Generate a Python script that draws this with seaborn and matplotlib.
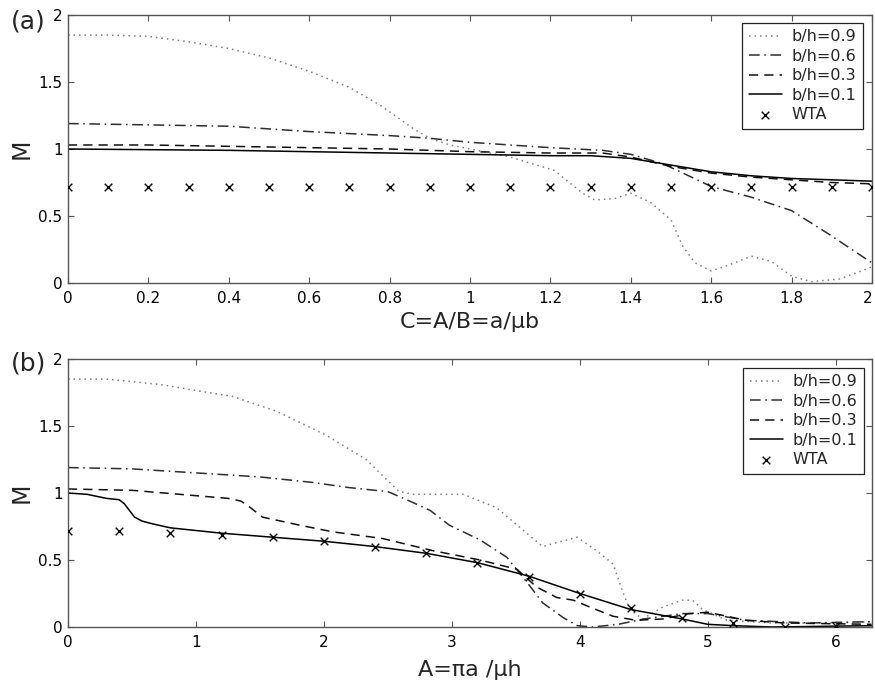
import numpy as np
import pandas as pd
import matplotlib
matplotlib.use("Agg")
import matplotlib.pyplot as plt
import matplotlib.transforms as mtransforms
from matplotlib.ticker import FuncFormatter
import seaborn as sns

# ---------------- data: panel (a) ----------------
xa_09 = [0, 0.1, 0.2, 0.25, 0.3, 0.4, 0.5, 0.6, 0.7, 0.78, 0.86, 0.9, 0.95, 1.0, 1.1, 1.21,
         1.28, 1.31, 1.36, 1.40, 1.45, 1.50, 1.53, 1.56, 1.60, 1.64, 1.70, 1.75, 1.80, 1.85, 1.92, 2.0]
ya_09 = [1.85, 1.85, 1.84, 1.82, 1.80, 1.75, 1.68, 1.58, 1.46, 1.32, 1.15, 1.08, 1.03, 1.00, 0.94, 0.84,
         0.67, 0.62, 0.63, 0.67, 0.60, 0.47, 0.27, 0.15, 0.09, 0.13, 0.20, 0.16, 0.05, 0.01, 0.03, 0.12]
xa_06 = [0, 0.2, 0.4, 0.5, 0.6, 0.8, 0.9, 1.0, 1.2, 1.33, 1.4, 1.48, 1.53, 1.6, 1.7, 1.8, 1.89, 2.0]
ya_06 = [1.19, 1.18, 1.17, 1.15, 1.13, 1.10, 1.08, 1.05, 1.01, 0.99, 0.96, 0.89, 0.82, 0.72, 0.64, 0.54, 0.37, 0.15]
xa_03 = [0, 0.2, 0.4, 0.6, 0.8, 1.0, 1.2, 1.33, 1.4, 1.5, 1.6, 1.7, 1.8, 1.9, 2.0]
ya_03 = [1.03, 1.03, 1.02, 1.01, 1.00, 0.98, 0.97, 0.97, 0.94, 0.87, 0.82, 0.79, 0.77, 0.75, 0.74]
xa_01 = [0, 0.2, 0.4, 0.6, 0.8, 1.0, 1.2, 1.3, 1.4, 1.5, 1.6, 1.7, 1.8, 1.9, 2.0]
ya_01 = [1.0, 0.995, 0.99, 0.98, 0.97, 0.96, 0.95, 0.95, 0.93, 0.88, 0.83, 0.80, 0.78, 0.77, 0.76]
xa_wta = [0, 0.1, 0.2, 0.3, 0.4, 0.5, 0.6, 0.7, 0.8, 0.9, 1.0, 1.1, 1.2, 1.3, 1.4, 1.5, 1.6, 1.7, 1.8, 1.9, 2.0]
ya_wta = [0.72, 0.72, 0.72, 0.72, 0.72, 0.72, 0.72, 0.72, 0.72, 0.72, 0.72,
          0.72, 0.72, 0.72, 0.72, 0.72, 0.72, 0.72, 0.72, 0.72, 0.72]

# ---------------- data: panel (b) ----------------
xb_09 = [0, 0.3, 0.72, 1.03, 1.29, 1.63, 2.02, 2.33, 2.49, 2.59, 2.7, 2.85, 3.09, 3.35, 3.56, 3.71,
         3.82, 3.98, 4.13, 4.26, 4.34, 4.39, 4.49, 4.65, 4.8, 4.88, 4.96, 5.15, 5.5, 6.0, 6.28]
yb_09 = [1.85, 1.85, 1.81, 1.76, 1.72, 1.61, 1.43, 1.25, 1.10, 1.01, 0.99, 0.99, 0.99, 0.89, 0.72, 0.60,
         0.63, 0.67, 0.57, 0.47, 0.25, 0.13, 0.06, 0.15, 0.20, 0.20, 0.13, 0.05, 0.03, 0.03, 0.04]
xb_06 = [0, 0.5, 1.0, 1.5, 1.9, 2.2, 2.5, 2.67, 2.83, 2.98, 3.22, 3.43, 3.59, 3.71, 3.87, 3.98,
         4.1, 4.3, 4.5, 4.8, 5.0, 5.3, 5.8, 6.28]
yb_06 = [1.19, 1.18, 1.15, 1.12, 1.08, 1.04, 1.01, 0.94, 0.87, 0.76, 0.65, 0.52, 0.33, 0.18, 0.07, 0.01,
         0.0, 0.02, 0.06, 0.10, 0.10, 0.05, 0.03, 0.04]
xb_03 = [0, 0.5, 1.0, 1.25, 1.35, 1.40, 1.52, 1.81, 2.07, 2.46, 2.85, 3.22, 3.51, 3.66, 3.82, 3.95,
         4.1, 4.26, 4.44, 4.65, 4.85, 5.0, 5.3, 5.6, 6.28]
yb_03 = [1.03, 1.02, 0.98, 0.96, 0.94, 0.91, 0.82, 0.76, 0.71, 0.66, 0.57, 0.50, 0.43, 0.30, 0.22, 0.20,
         0.14, 0.08, 0.05, 0.06, 0.10, 0.11, 0.05, 0.03, 0.02]
xb_01 = [0, 0.15, 0.3, 0.4, 0.44, 0.48, 0.52, 0.58, 0.66, 0.8, 1.2, 1.6, 2.0, 2.4, 2.8, 3.2, 3.6, 4.0,
         4.4, 4.8, 5.0, 5.2, 5.5, 6.28]
yb_01 = [1.0, 0.99, 0.96, 0.95, 0.92, 0.87, 0.82, 0.79, 0.77, 0.74, 0.70, 0.67, 0.64, 0.60, 0.55, 0.48,
         0.38, 0.25, 0.13, 0.06, 0.02, 0.01, 0.0, 0.01]
xb_wta = [0, 0.4, 0.8, 1.2, 1.6, 2.0, 2.4, 2.8, 3.2, 3.6, 4.0, 4.4, 4.8, 5.2, 5.6, 6.0]
yb_wta = [0.72, 0.72, 0.70, 0.69, 0.67, 0.64, 0.60, 0.55, 0.48, 0.375, 0.25, 0.14, 0.07, 0.03, 0.0, 0.01]

labels = ["b/h=0.9", "b/h=0.6", "b/h=0.3", "b/h=0.1", "WTA"]
xticks_a = [0, 0.2, 0.4, 0.6, 0.8, 1.0, 1.2, 1.4, 1.6, 1.8, 2.0]
xticks_b = [0, 1, 2, 3, 4, 5, 6]
yticks = [0, 0.5, 1, 1.5, 2]

styles = {
    "b/h=0.9": dict(color="#808080", linestyle=(0, (1, 2.6)), linewidth=1.1),
    "b/h=0.6": dict(color="#2e2e2e", linestyle=(0, (7, 3, 1, 3)), linewidth=1.1),
    "b/h=0.3": dict(color="#111111", linestyle=(0, (6, 4)), linewidth=1.1),
    "b/h=0.1": dict(color="#000000", linestyle="-", linewidth=1.1),
}

sns.set_theme(style="ticks")
plt.rcParams["font.family"] = ["DejaVu Sans"]
plt.rcParams["axes.edgecolor"] = "#555555"
plt.rcParams["axes.linewidth"] = 1.0

W, H = 875, 682
fig = plt.figure(figsize=(W / 100, H / 100), dpi=100)
fig.patch.set_facecolor("white")

ax_a = fig.add_axes([68 / W, 1 - 283 / H, 804 / W, 268 / H])
ax_b = fig.add_axes([68 / W, 1 - 627 / H, 804 / W, 268 / H])

panels = [
    (ax_a, [(xa_09, ya_09), (xa_06, ya_06), (xa_03, ya_03), (xa_01, ya_01)], (xa_wta, ya_wta),
     (0, 2), xticks_a, (863, 23)),
    (ax_b, [(xb_09, yb_09), (xb_06, yb_06), (xb_03, yb_03), (xb_01, yb_01)], (xb_wta, yb_wta),
     (0, 2 * np.pi), xticks_b, (864, 368)),
]

fmt = FuncFormatter(lambda v, p: "%g" % v)

for ax, series, wta, xlim, xticks, legpos in panels:
    ax.set_facecolor("white")
    for lab, (xs, ys) in zip(labels[:4], series):
        df = pd.DataFrame({"x": xs, "y": ys})
        sns.lineplot(data=df, x="x", y="y", ax=ax, estimator=None, sort=False,
                     label=lab, **styles[lab])
    dfw = pd.DataFrame({"x": wta[0], "y": wta[1]})
    sns.scatterplot(data=dfw, x="x", y="y", ax=ax, marker="x", color="black",
                    s=30, linewidth=1.0, label="WTA", zorder=4)
    ax.set_xlim(*xlim)
    ax.set_ylim(0, 2)
    ax.set_xticks(xticks)
    ax.set_yticks(yticks)
    ax.xaxis.set_major_formatter(fmt)
    ax.yaxis.set_major_formatter(fmt)
    ax.set_xlabel("")
    ax.set_ylabel("")
    ax.tick_params(axis="both", which="major", direction="in", length=4, width=0.8,
                   color="#555555", labelsize=11, labelcolor="black",
                   top=True, right=True)
    ax.tick_params(axis="x", pad=6)
    ax.tick_params(axis="y", pad=4)
    for sp in ax.spines.values():
        sp.set_visible(True)
        sp.set_color("#555555")
    leg = ax.legend(loc="upper right",
                    bbox_to_anchor=(legpos[0] / W, 1 - legpos[1] / H),
                    bbox_transform=fig.transFigure,
                    fontsize=11.5, frameon=True, fancybox=False, framealpha=1,
                    edgecolor="#222222", borderpad=0.4, labelspacing=0.28,
                    handlelength=2.1, handletextpad=0.6, borderaxespad=0.0,
                    scatterpoints=1)
    leg.get_frame().set_linewidth(0.9)

# keep the last tick label of panel (a) inside the picture
fig.canvas.draw()
last = ax_a.get_xticklabels()[-1]
last.set_transform(last.get_transform() +
                   mtransforms.ScaledTranslation(-4 / 100, 0, fig.dpi_scale_trans))

# panel tags, axis titles
fig.text(11 / W, 1 - 9 / H, "(a)", fontsize=18, ha="left", va="top")
fig.text(11 / W, 1 - 352 / H, "(b)", fontsize=18, ha="left", va="top")
fig.text(22 / W, 1 - 149 / H, "M", fontsize=17, rotation=90, ha="center", va="center")
fig.text(22 / W, 1 - 493 / H, "M", fontsize=17, rotation=90, ha="center", va="center")
fig.text(470 / W, 1 - 328 / H, "C=A/B=a/\u03bcb", fontsize=16, ha="center", va="baseline")
fig.text(470 / W, 1 - 676 / H, "A=\u03c0a /\u03bch", fontsize=16, ha="center", va="baseline")

fig.savefig("out.png", dpi=100, facecolor="white")
